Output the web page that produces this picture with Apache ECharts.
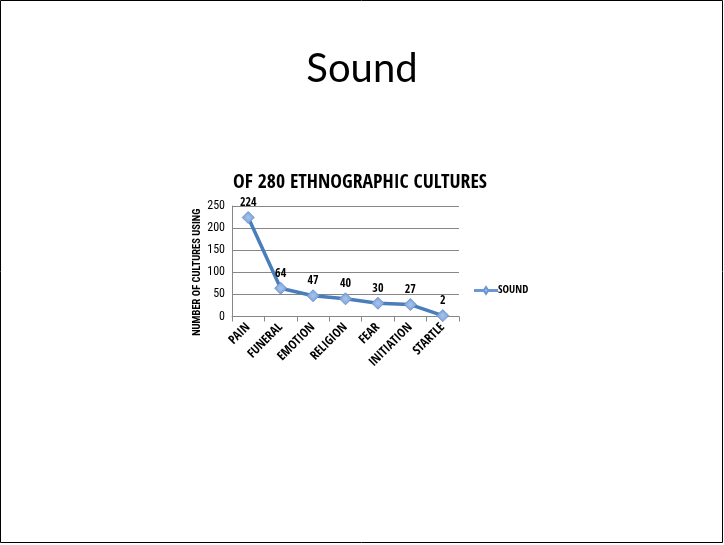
<!DOCTYPE html>
<html>
<head>
<meta charset="utf-8">
<script src="https://cdn.jsdelivr.net/npm/echarts@6/dist/echarts.min.js"></script>
<style>
  html, body { margin: 0; padding: 0; background: #fff; }
  #chart { width: 724px; height: 545px; }
</style>
</head>
<body>
<div id="chart"></div>
<script>
// Ceremonial contexts in which sound is used
const categories = ['PAIN', 'FUNERAL', 'EMOTION', 'RELIGION', 'FEAR', 'INITIATION', 'STARTLE'];
const soundValues = [224, 64, 47, 40, 30, 27, 2];
const yTicks = { min: 0, max: 250, interval: 50 };

const condBold = '"Open Sans Condensed", "Roboto Condensed", sans-serif';
const condRegular = '"Roboto Condensed", "Open Sans Condensed", sans-serif';

const chart = echarts.init(document.getElementById('chart'));
chart.setOption({
  backgroundColor: '#fff',
  animation: false,
  title: [
    {
      text: 'Sound',
      left: 'center',
      top: 44,
      textStyle: { fontFamily: 'Lato, "Open Sans", sans-serif', fontSize: 40, fontWeight: 'normal', color: '#000' }
    },
    {
      text: 'OF 280 ETHNOGRAPHIC CULTURES',
      left: 355,
      textAlign: 'center',
      top: 168,
      textStyle: { fontFamily: condBold, fontSize: 19.7, fontWeight: 'bold', color: '#000' }
    }
  ],
  graphic: [{
    type: 'rect',
    shape: { x: 0.5, y: 0.5, width: 722, height: 542 },
    style: { fill: 'none', stroke: '#000', lineWidth: 1 },
    silent: true
  }],
  legend: {
    left: 469,
    top: 280,
    itemWidth: 22,
    itemHeight: 8,
    itemGap: 2,
    textStyle: { fontFamily: condBold, fontSize: 11, fontWeight: 'bold', color: '#000', padding: [0, 0, 0, -4] },
    data: [{ name: 'SOUND', icon: 'path://M0,4 L9,4 L11,1 L13,4 L22,4 L22,5 L13,5 L11,8 L9,5 L0,5 Z' }]
  },
  grid: { left: 232, top: 206, width: 227, height: 110.5, containLabel: false },
  xAxis: {
    type: 'category',
    data: categories,
    boundaryGap: true,
    axisLine: { lineStyle: { color: '#878787', width: 1 } },
    axisTick: { show: true, length: 5, lineStyle: { color: '#878787' } },
    axisLabel: {
      rotate: 45,
      margin: 9,
      fontFamily: condBold,
      fontSize: 12.5,
      fontWeight: 'bold',
      color: '#000'
    }
  },
  yAxis: {
    type: 'value',
    min: yTicks.min,
    max: yTicks.max,
    interval: yTicks.interval,
    name: 'NUMBER OF CULTURES USING',
    nameLocation: 'middle',
    nameGap: 28,
    nameRotate: 90,
    nameTextStyle: { fontFamily: condRegular, fontSize: 10.5, fontWeight: 'bold', color: '#000', padding: [0, 0, 0, -22] },
    axisLine: { show: true, lineStyle: { color: '#878787', width: 1 } },
    axisTick: { show: false },
    splitLine: { lineStyle: { color: '#878787', width: 1 } },
    axisLabel: { fontFamily: condRegular, fontSize: 12, color: '#000', margin: 7 }
  },
  series: [{
    name: 'SOUND',
    type: 'line',
    data: soundValues,
    symbol: 'diamond',
    symbolSize: 12,
    lineStyle: { color: '#4a7ebb', width: 3.5 },
    itemStyle: {
      color: new echarts.graphic.RadialGradient(0.5, 0.5, 0.6, [
        { offset: 0, color: '#a9c4ea' },
        { offset: 1, color: '#6d97d4' }
      ]),
      borderColor: '#6d97d4',
      borderWidth: 1
    },
    label: {
      show: true,
      position: 'top',
      distance: 2,
      fontFamily: condBold,
      fontSize: 12,
      fontWeight: 'bold',
      color: '#000'
    }
  }]
});
</script>
</body>
</html>
